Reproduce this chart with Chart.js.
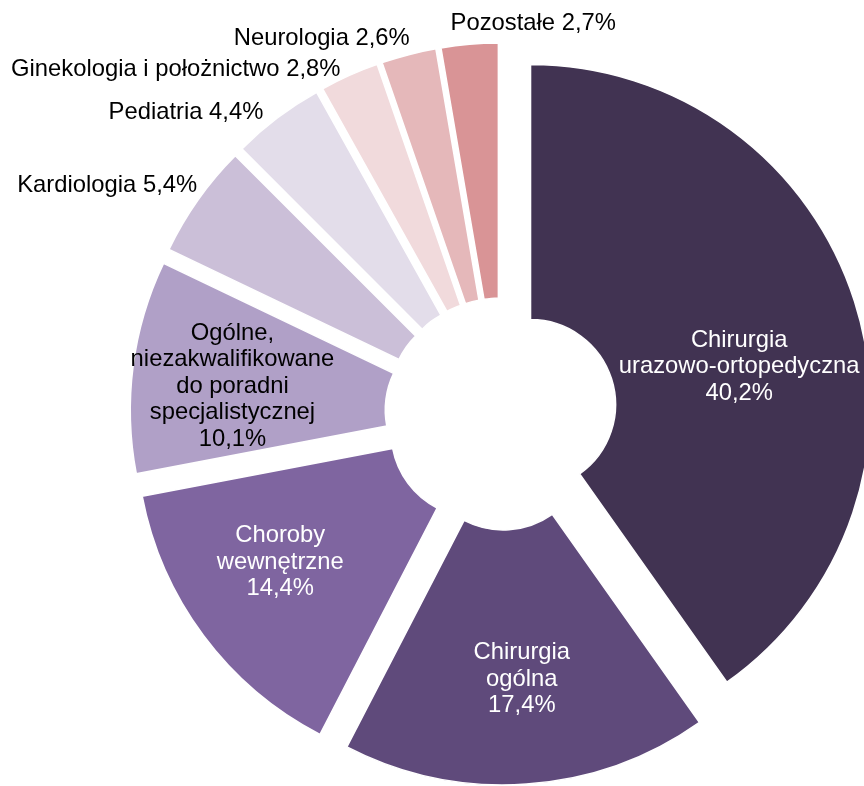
<!DOCTYPE html>
<html>
<head>
<meta charset="utf-8">
<script src="https://cdn.jsdelivr.net/npm/chart.js@4.4.1/dist/chart.umd.min.js"></script>
<style>
    html, body { margin: 0; padding: 0; background: #fff; }
    #wrap { width: 864px; height: 786px; position: relative; }
</style>
</head>
<body>
<div id="wrap"><canvas id="myChart"></canvas></div>
<script>
// categories (inner labels split into lines the way they wrap in the slice)
const categories = [
    ["Chirurgia", "urazowo-ortopedyczna"],
    ["Chirurgia", "ogólna"],
    ["Choroby", "wewnętrzne"],
    ["Ogólne,", "niezakwalifikowane", "do poradni", "specjalistycznej"],
    "Kardiologia",
    "Pediatria",
    "Ginekologia i położnictwo",
    "Neurologia",
    "Pozostałe",
];
const shares = [40.2, 17.4, 14.4, 10.1, 5.4, 4.4, 2.8, 2.6, 2.7];
const sliceColors = ["#413352", "#5f4a7b", "#7f65a0", "#b0a0c7", "#cbbfd8", "#e3ddea", "#f1dadc", "#e5b8ba", "#d99496"];
const textColors = ["#fff", "#fff", "#fff", "#000", "#000", "#000", "#000", "#000", "#000"];

const EXPLODE = 31; // every slice pulled out from the centre by this many px
const FONT = "23.8px 'Liberation Sans', Arial, sans-serif";
const LINE_H = 26.5;

// label placement: inside -> [distance from slice centre, angle shift in deg]
const insidePlace = [[212, 7.4], [235, -0.6], [235, 3.2], [239, -1.6]];
// outside -> [dx, dy, align] relative to the outer point on the bisector
const outsidePlace = [[-1, -14, "right"], [-14, -6, "right"], [-9, -6, "right"], [1, -16, "right"], [-19, -21, "left"]];

const fmt = (v) => v.toFixed(1).replace(".", ",") + "%";

const explodePlugin = {
    id: "explode",
    afterDatasetUpdate(chart, args) {
        args.meta.data.forEach((arc) => {
            const mid = (arc.startAngle + arc.endAngle) / 2;
            arc.x += Math.cos(mid) * EXPLODE;
            arc.y += Math.sin(mid) * EXPLODE;
        });
    },
};

const labelPlugin = {
    id: "sliceLabels",
    afterDatasetsDraw(chart) {
        const ctx = chart.ctx;
        const arcs = chart.getDatasetMeta(0).data;
        ctx.save();
        ctx.font = FONT;
        ctx.textBaseline = "middle";
        arcs.forEach((arc, i) => {
            const mid = (arc.startAngle + arc.endAngle) / 2;
            ctx.fillStyle = textColors[i];
            if (i < insidePlace.length) {
                const [dist, shift] = insidePlace[i];
                const a = mid + (shift * Math.PI) / 180;
                const x = arc.x + Math.cos(a) * dist;
                const y = arc.y + Math.sin(a) * dist;
                const lines = [].concat(categories[i], fmt(shares[i]));
                ctx.textAlign = "center";
                lines.forEach((t, k) => {
                    ctx.fillText(t, x, y + (k - (lines.length - 1) / 2) * LINE_H);
                });
            } else {
                const [dx, dy, align] = outsidePlace[i - insidePlace.length];
                const x = arc.x + Math.cos(mid) * arc.outerRadius + dx;
                const y = arc.y + Math.sin(mid) * arc.outerRadius + dy;
                ctx.textAlign = align;
                ctx.fillText(categories[i] + " " + fmt(shares[i]), x, y);
            }
        });
        ctx.restore();
    },
};

const ctx = document.getElementById("myChart").getContext("2d");
const myChart = new Chart(ctx, {
    type: "doughnut",
    data: {
        labels: categories,
        datasets: [
            {
                data: shares,
                backgroundColor: sliceColors,
                borderColor: "#fff",
                borderWidth: 1.5,
                clip: false,
            },
        ],
    },
    options: {
        responsive: true,
        maintainAspectRatio: false,
        animation: false,
        events: [],
        rotation: 0,
        cutout: "25%",
        radius: 340,
        layout: { padding: { left: 138, right: 0, top: 42, bottom: 0 } },
        plugins: {
            legend: { display: false },
            tooltip: { enabled: false },
        },
    },
    plugins: [explodePlugin, labelPlugin],
});
</script>
</body>
</html>
